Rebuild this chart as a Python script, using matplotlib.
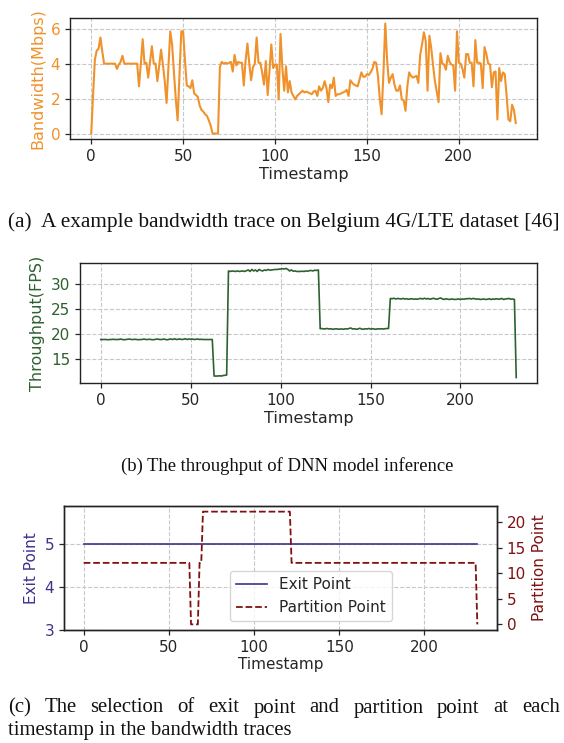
import matplotlib
matplotlib.use("Agg")
import matplotlib.pyplot as plt

# ---------------- data ----------------
bandwidth = [
    0.0, 2.2, 4.25, 4.75, 4.85, 5.5, 4.7, 4.0, 4.0, 4.0,
    4.0, 4.0, 4.0, 4.0, 3.7, 3.95, 4.1, 4.45, 4.0, 4.0,
    4.0, 4.0, 4.0, 4.0, 4.0, 4.0, 2.7, 4.0, 5.4, 4.0,
    4.05, 3.2, 4.1, 5.0, 4.0, 4.0, 3.0, 3.9, 4.8, 3.95,
    3.0, 1.75, 3.8, 5.85, 5.1, 3.5, 2.0, 0.75, 3.3, 5.85,
    5.85, 4.2, 2.75, 2.7, 2.6, 3.05, 2.3, 2.2, 2.1, 1.6,
    1.35, 1.25, 1.1, 1.0, 0.75, 0.45, 0.0, 0.0, 0.0, 0.0,
    3.8, 4.1, 4.0, 4.05, 4.0, 4.05, 4.1, 3.55, 4.5, 3.9,
    4.1, 4.05, 4.05, 2.75, 4.2, 5.15, 4.0, 3.05, 3.8, 4.0,
    5.5, 4.05, 4.05, 3.5, 2.8, 4.15, 2.2, 3.6, 5.1, 3.75,
    3.95, 3.95, 1.95, 5.7, 3.75, 2.45, 3.85, 2.35, 3.0, 2.35,
    2.15, 1.95, 2.15, 2.25, 2.35, 2.45, 2.35, 2.4, 2.35, 2.3,
    2.25, 2.4, 2.45, 2.15, 2.7, 2.45, 2.6, 3.0, 2.6, 1.8,
    2.8, 2.6, 3.2, 2.15, 2.25, 2.25, 2.3, 2.35, 2.4, 2.5,
    2.15, 3.05, 2.9, 2.8, 2.75, 2.7, 3.1, 3.5, 3.25, 3.25,
    3.4, 3.35, 3.5, 3.7, 4.1, 4.05, 3.3, 2.0, 1.1, 3.5,
    6.3, 4.2, 2.9, 3.2, 3.4, 2.8, 2.45, 2.45, 2.75, 1.95,
    1.9, 1.3, 2.7, 3.5, 3.3, 3.2, 3.25, 3.3, 2.9, 4.5,
    5.1, 5.8, 5.3, 2.45, 5.6, 4.9, 3.9, 3.0, 2.4, 1.8,
    4.6, 4.0, 3.95, 3.65, 4.45, 4.1, 3.95, 3.9, 2.45, 5.85,
    4.05, 4.0, 3.7, 3.2, 4.55, 4.55, 4.05, 4.05, 2.7, 5.35,
    4.05, 4.05, 4.0, 2.6, 4.95, 4.55, 4.0, 3.95, 2.65, 3.5,
    3.55, 0.8, 3.75, 3.0, 3.5, 3.4, 2.2, 0.8, 0.7, 1.65,
    1.35, 0.6,
]

throughput = [
    18.9, 18.9, 18.9, 18.9, 18.85, 18.9, 18.9, 18.95, 18.9, 18.9,
    18.9, 19.0, 18.9, 18.85, 18.9, 18.95, 19.0, 18.9, 18.9, 18.95,
    18.9, 18.85, 18.9, 18.9, 19.0, 18.9, 18.9, 18.95, 18.9, 18.85,
    18.9, 19.0, 18.95, 18.9, 18.9, 19.0, 18.9, 18.85, 18.95, 19.0,
    18.9, 19.05, 18.9, 18.95, 19.0, 18.9, 18.95, 19.05, 18.9, 19.0,
    18.95, 19.0, 18.9, 18.95, 19.0, 18.9, 18.95, 18.9, 18.9, 18.9,
    18.9, 18.9, 18.9, 11.6, 11.6, 11.6, 11.65, 11.6, 11.7, 11.75,
    11.8, 32.6, 32.5, 32.6, 32.55, 32.5, 32.6, 32.5, 32.55, 32.6,
    32.5, 32.65, 32.8, 32.5, 32.9, 32.6, 32.8, 32.5, 32.9, 32.7,
    32.6, 32.8, 32.7, 32.9, 32.75, 32.8, 32.85, 32.9, 32.9, 32.95,
    33.0, 33.05, 33.0, 33.1, 32.9, 32.6, 32.8, 32.55, 32.6, 32.5,
    32.5, 32.5, 32.55, 32.5, 32.6, 32.55, 32.65, 32.7, 32.6, 32.75,
    32.7, 32.8, 21.05, 21.1, 21.0, 21.05, 21.1, 21.0, 21.05, 20.95,
    21.0, 21.05, 20.95, 21.0, 21.0, 20.95, 21.05, 21.0, 21.1, 21.2,
    21.0, 21.05, 20.95, 21.0, 21.15, 21.0, 20.95, 21.05, 21.0, 21.1,
    21.0, 21.05, 21.0, 20.95, 21.05, 21.0, 21.05, 21.0, 21.05, 21.1,
    21.1, 27.1, 27.05, 27.15, 27.0, 27.1, 27.05, 27.0, 27.1, 27.0,
    27.05, 26.95, 27.0, 27.05, 26.95, 27.0, 26.95, 27.05, 27.1, 27.0,
    27.15, 27.0, 27.1, 26.95, 27.05, 27.15, 27.0, 26.95, 27.1, 27.2,
    27.0, 26.9, 27.05, 26.95, 26.9, 27.0, 26.95, 26.9, 26.95, 27.0,
    26.9, 27.0, 26.95, 27.05, 27.05, 27.1, 27.0, 27.1, 27.05, 26.95,
    27.0, 26.9, 26.95, 27.0, 26.9, 26.95, 27.05, 26.9, 27.0, 26.95,
    27.05, 26.95, 27.0, 27.1, 26.9, 27.0, 27.05, 27.1, 26.95, 27.0,
    26.9, 11.3,
]

exit_point = [
    5, 5, 5, 5, 5, 5, 5, 5, 5, 5, 5, 5, 5, 5, 5, 5, 5, 5, 5, 5,
    5, 5, 5, 5, 5, 5, 5, 5, 5, 5, 5, 5, 5, 5, 5, 5, 5, 5, 5, 5,
    5, 5, 5, 5, 5, 5, 5, 5, 5, 5, 5, 5, 5, 5, 5, 5, 5, 5, 5, 5,
    5, 5, 5, 5, 5, 5, 5, 5, 5, 5, 5, 5, 5, 5, 5, 5, 5, 5, 5, 5,
    5, 5, 5, 5, 5, 5, 5, 5, 5, 5, 5, 5, 5, 5, 5, 5, 5, 5, 5, 5,
    5, 5, 5, 5, 5, 5, 5, 5, 5, 5, 5, 5, 5, 5, 5, 5, 5, 5, 5, 5,
    5, 5, 5, 5, 5, 5, 5, 5, 5, 5, 5, 5, 5, 5, 5, 5, 5, 5, 5, 5,
    5, 5, 5, 5, 5, 5, 5, 5, 5, 5, 5, 5, 5, 5, 5, 5, 5, 5, 5, 5,
    5, 5, 5, 5, 5, 5, 5, 5, 5, 5, 5, 5, 5, 5, 5, 5, 5, 5, 5, 5,
    5, 5, 5, 5, 5, 5, 5, 5, 5, 5, 5, 5, 5, 5, 5, 5, 5, 5, 5, 5,
    5, 5, 5, 5, 5, 5, 5, 5, 5, 5, 5, 5, 5, 5, 5, 5, 5, 5, 5, 5,
    5, 5, 5, 5, 5, 5, 5, 5, 5, 5, 5, 5,
]

partition_point = [
    12, 12, 12, 12, 12, 12, 12, 12, 12, 12, 12, 12, 12, 12, 12, 12, 12, 12, 12, 12,
    12, 12, 12, 12, 12, 12, 12, 12, 12, 12, 12, 12, 12, 12, 12, 12, 12, 12, 12, 12,
    12, 12, 12, 12, 12, 12, 12, 12, 12, 12, 12, 12, 12, 12, 12, 12, 12, 12, 12, 12,
    12, 12, 12, 0, 0, 0, 0, 0, 12, 12, 22, 22, 22, 22, 22, 22, 22, 22, 22, 22,
    22, 22, 22, 22, 22, 22, 22, 22, 22, 22, 22, 22, 22, 22, 22, 22, 22, 22, 22, 22,
    22, 22, 22, 22, 22, 22, 22, 22, 22, 22, 22, 22, 22, 22, 22, 22, 22, 22, 22, 22,
    22, 22, 12, 12, 12, 12, 12, 12, 12, 12, 12, 12, 12, 12, 12, 12, 12, 12, 12, 12,
    12, 12, 12, 12, 12, 12, 12, 12, 12, 12, 12, 12, 12, 12, 12, 12, 12, 12, 12, 12,
    12, 12, 12, 12, 12, 12, 12, 12, 12, 12, 12, 12, 12, 12, 12, 12, 12, 12, 12, 12,
    12, 12, 12, 12, 12, 12, 12, 12, 12, 12, 12, 12, 12, 12, 12, 12, 12, 12, 12, 12,
    12, 12, 12, 12, 12, 12, 12, 12, 12, 12, 12, 12, 12, 12, 12, 12, 12, 12, 12, 12,
    12, 12, 12, 12, 12, 12, 12, 12, 12, 12, 12, 0,
]

timestamps = list(range(len(bandwidth)))

xticks = [0, 50, 100, 150, 200]
bw_ticks = [0, 2, 4, 6]
tp_ticks = [15, 20, 25, 30]
exit_ticks = [3, 4, 5]
part_ticks = [0, 5, 10, 15, 20]

caption_a = "(a)  A example bandwidth trace on Belgium 4G/LTE dataset [46]"
caption_b = "(b) The throughput of DNN model inference"
caption_c1 = "(c) The selection of exit point and partition point at each"
caption_c2 = "timestamp in the bandwidth traces"

# ---------------- style ----------------
plt.rcParams['font.family'] = ['DejaVu Sans']
plt.rcParams['font.size'] = 11
TEXT = '#262626'
ORANGE = '#f0922b'
GREEN = '#2e6130'
PURPLE = '#3f318c'
DARKRED = '#7f1111'
GRID = dict(color='#c8c8c8', linestyle='--', linewidth=0.8)

W, H = 564, 743
fig = plt.figure(figsize=(W / 100, H / 100), dpi=100)


def ax_at(left, top, right, bottom):
    return fig.add_axes([left / W, 1 - bottom / H, (right - left) / W, (bottom - top) / H])


def style(ax):
    for s in ax.spines.values():
        s.set_color('#222222')
        s.set_linewidth(1.0)
    ax.tick_params(colors=TEXT, labelsize=11, length=3.5, width=0.9)
    ax.set_axisbelow(True)


# (a) bandwidth
ax1 = ax_at(70, 18, 537, 139)
style(ax1)
ax1.plot(timestamps, bandwidth, color=ORANGE, lw=1.5)
ax1.set_xticks(xticks)
ax1.set_yticks(bw_ticks)
ax1.grid(True, **GRID)
ax1.set_xlabel('Timestamp', color=TEXT, fontsize=11.5, labelpad=2)
ax1.set_ylabel('Bandwidth(Mbps)', color=ORANGE, fontsize=11.5, labelpad=4)
ax1.tick_params(axis='y', labelcolor=ORANGE)

# (b) throughput
ax2 = ax_at(80, 263, 537, 383)
style(ax2)
ax2.plot(timestamps, throughput, color=GREEN, lw=1.2)
ax2.set_xticks(xticks)
ax2.set_yticks(tp_ticks)
ax2.grid(True, **GRID)
ax2.set_xlabel('Timestamp', color=TEXT, fontsize=11.5, labelpad=2)
ax2.set_ylabel('Throughput(FPS)', color=GREEN, fontsize=11.5, labelpad=4)
ax2.tick_params(axis='y', labelcolor=GREEN)

# (c) exit / partition point
ax3 = ax_at(64, 506, 497, 630)
style(ax3)
l1, = ax3.plot(timestamps, exit_point, color=PURPLE, lw=1.2, label='Exit Point')
ax3.set_xticks(xticks)
ax3.set_yticks(exit_ticks)
ax3.set_ylim(3, 5.88)
ax3.grid(True, **GRID)
ax3.set_xlabel('Timestamp', color=TEXT, fontsize=11, labelpad=2)
ax3.set_ylabel('Exit Point', color=PURPLE, fontsize=11, labelpad=4)
ax3.tick_params(axis='y', labelcolor=PURPLE)

ax4 = ax3.twinx()
style(ax4)
l2, = ax4.plot(timestamps, partition_point, color=DARKRED, lw=1.3, ls='--', label='Partition Point')
ax4.set_yticks(part_ticks)
ax4.set_ylabel('Partition Point', color=DARKRED, fontsize=11, labelpad=4)
ax4.tick_params(axis='y', labelcolor=DARKRED)
ax4.legend([l1, l2], ['Exit Point', 'Partition Point'], loc='center',
           bbox_to_anchor=(0.5705, 0.2735), fontsize=11, framealpha=0.8,
           edgecolor='#cccccc', labelcolor=TEXT)

# ---------------- captions ----------------
SERIF = ['Liberation Serif', 'DejaVu Serif']
CAP = 13.4
CAPCOL = '#111111'
fig.canvas.draw()
renderer = fig.canvas.get_renderer()


def width_of(s, size):
    t = fig.text(0, 0, s, family=SERIF, fontsize=size)
    w = t.get_window_extent(renderer).width
    t.remove()
    return w


def fit_size(s, target):
    return CAP * target / width_of(s, CAP)


def justified(text, x0, x1, yc, size):
    words = text.split()
    ws = [width_of(w, size) for w in words]
    gap = (x1 - x0 - sum(ws)) / (len(words) - 1)
    x = x0
    for w, ww in zip(words, ws):
        fig.text(x / W, 1 - yc / H, w, family=SERIF, fontsize=size, ha='left',
                 va='center', color=CAPCOL)
        x += ww + gap


size_a = fit_size(caption_a, 552)
fig.text(284 / W, 1 - 222 / H, caption_a, family=SERIF, fontsize=size_a,
         ha='center', va='center', color=CAPCOL)
fig.text(287 / W, 1 - 466 / H, caption_b, family=SERIF, fontsize=CAP,
         ha='center', va='center', color=CAPCOL)
size_c = fit_size(caption_c2, 285)
justified(caption_c1, 8, 560, 708, size_c)
fig.text(8 / W, 1 - 731 / H, caption_c2, family=SERIF, fontsize=size_c,
         ha='left', va='center', color=CAPCOL)

fig.savefig('out.png', dpi=100)
